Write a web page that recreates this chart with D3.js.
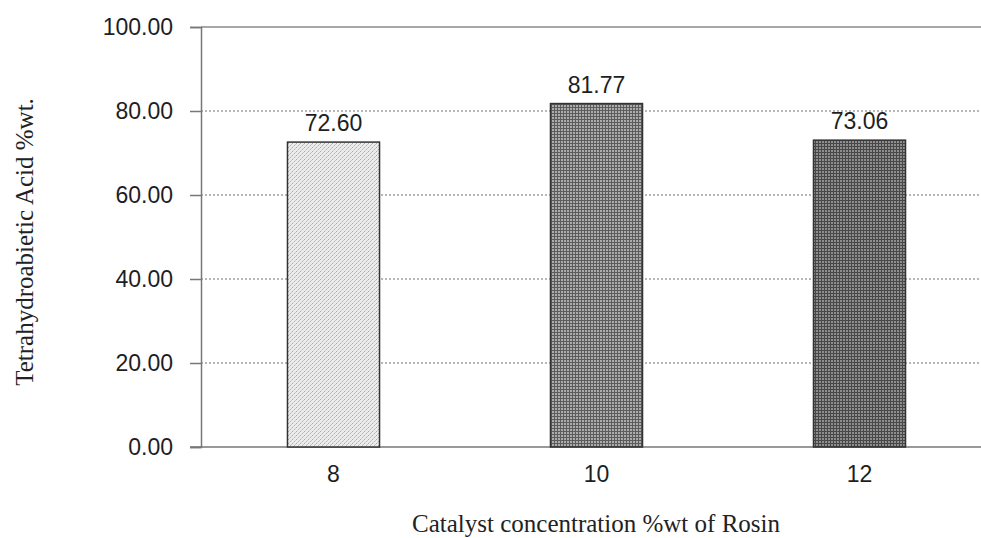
<!DOCTYPE html>
<html>
<head>
<meta charset="utf-8">
<script src="https://cdn.jsdelivr.net/npm/d3@7"></script>
<style>
  html, body { margin: 0; padding: 0; background: #fff; }
  svg { display: block; }
</style>
</head>
<body>
<svg id="chart" width="981" height="538"></svg>
<script>
// Catalyst loading (%wt of rosin) and resulting tetrahydroabietic acid yield
const categories = ["8", "10", "12"];
const values = [72.60, 81.77, 73.06];
const yTicks = [0, 20, 40, 60, 80, 100];
const barPatterns = ["fillLight", "fillMid", "fillDark"];

const svg = d3.select("#chart");
const plotLeft = 201, plotTop = 27, plotBottom = 447, plotRight = 991;

const x = d3.scaleBand()
  .domain(categories)
  .range([plotLeft + 1, plotRight])
  .paddingInner(0.65)
  .paddingOuter(0.325);

const y = d3.scaleLinear().domain([0, 100]).range([plotBottom, plotTop]);

// Fill textures for the bars
const defs = svg.append("defs");
const pLight = defs.append("pattern").attr("id", "fillLight")
  .attr("patternUnits", "userSpaceOnUse").attr("width", 4).attr("height", 4);
pLight.append("rect").attr("width", 4).attr("height", 4).attr("fill", "#ececec");
pLight.append("path").attr("d", "M-1,1 L1,-1 M0,4 L4,0 M3,5 L5,3")
  .attr("stroke", "#a8a8a8").attr("stroke-width", 1).attr("stroke-dasharray", "2,1");

const pMid = defs.append("pattern").attr("id", "fillMid")
  .attr("patternUnits", "userSpaceOnUse").attr("width", 3).attr("height", 3);
pMid.append("rect").attr("width", 3).attr("height", 3).attr("fill", "#5c5c5c");
pMid.append("rect").attr("width", 2).attr("height", 2).attr("fill", "#acacac");

const pDark = defs.append("pattern").attr("id", "fillDark")
  .attr("patternUnits", "userSpaceOnUse").attr("width", 3).attr("height", 3);
pDark.append("rect").attr("width", 3).attr("height", 3).attr("fill", "#484848");
pDark.append("rect").attr("width", 2).attr("height", 2).attr("fill", "#8e8e8e");

// Dotted gridlines
svg.append("g")
  .selectAll("line")
  .data(yTicks.filter(d => d > 0 && d < 100))
  .join("line")
  .attr("x1", plotLeft).attr("x2", 981)
  .attr("y1", d => y(d)).attr("y2", d => y(d))
  .attr("stroke", "#6e6e6e")
  .attr("stroke-width", 1)
  .attr("stroke-dasharray", "2,2");

// Top frame line at 100
svg.append("line")
  .attr("x1", plotLeft).attr("x2", 981)
  .attr("y1", y(100)).attr("y2", y(100))
  .attr("stroke", "#8a8a8a").attr("stroke-width", 1.5);

// Y axis
const yAxis = svg.append("g")
  .attr("transform", `translate(${plotLeft},0)`)
  .call(d3.axisLeft(y).tickValues(yTicks).tickFormat(d3.format(".2f")).tickSize(11).tickPadding(17));
yAxis.select(".domain").attr("stroke", "#777").attr("stroke-width", 1.5);
yAxis.selectAll(".tick line").attr("stroke", "#777").attr("stroke-width", 1.5);
yAxis.selectAll(".tick text")
  .attr("font-family", "'Liberation Sans', Arial, sans-serif")
  .attr("font-size", 23)
  .attr("fill", "#1e1e1e");

// X axis
const xAxis = svg.append("g")
  .attr("transform", `translate(0,${plotBottom})`)
  .call(d3.axisBottom(x).tickSize(0).tickPadding(19));
xAxis.select(".domain").attr("d", `M${plotLeft - 11},0H981`).attr("stroke", "#777").attr("stroke-width", 1.5);
xAxis.selectAll(".tick text")
  .attr("font-family", "'Liberation Sans', Arial, sans-serif")
  .attr("font-size", 23)
  .attr("fill", "#1e1e1e");

// Bars
svg.append("g")
  .selectAll("rect")
  .data(values)
  .join("rect")
  .attr("x", (d, i) => x(categories[i]))
  .attr("y", d => y(d))
  .attr("width", x.bandwidth())
  .attr("height", d => y(0) - y(d))
  .attr("fill", (d, i) => `url(#${barPatterns[i]})`)
  .attr("stroke", "#333")
  .attr("stroke-width", 1.5);

// Value labels
svg.append("g")
  .selectAll("text")
  .data(values)
  .join("text")
  .attr("x", (d, i) => x(categories[i]) + x.bandwidth() / 2)
  .attr("y", d => y(d) - 11)
  .attr("text-anchor", "middle")
  .attr("font-family", "'Liberation Sans', Arial, sans-serif")
  .attr("font-size", 23)
  .attr("fill", "#1e1e1e")
  .text(d => d.toFixed(2));

// Axis titles
svg.append("text")
  .attr("x", (plotLeft + plotRight) / 2).attr("y", 532)
  .attr("text-anchor", "middle")
  .attr("font-family", "'Liberation Serif', 'Times New Roman', serif")
  .attr("font-size", 25)
  .attr("fill", "#222")
  .text("Catalyst concentration %wt of Rosin");

svg.append("text")
  .attr("transform", "translate(33,242) rotate(-90)")
  .attr("text-anchor", "middle")
  .attr("font-family", "'Liberation Serif', 'Times New Roman', serif")
  .attr("font-size", 25)
  .attr("fill", "#222")
  .text("Tetrahydroabietic Acid %wt.");
</script>
</body>
</html>
